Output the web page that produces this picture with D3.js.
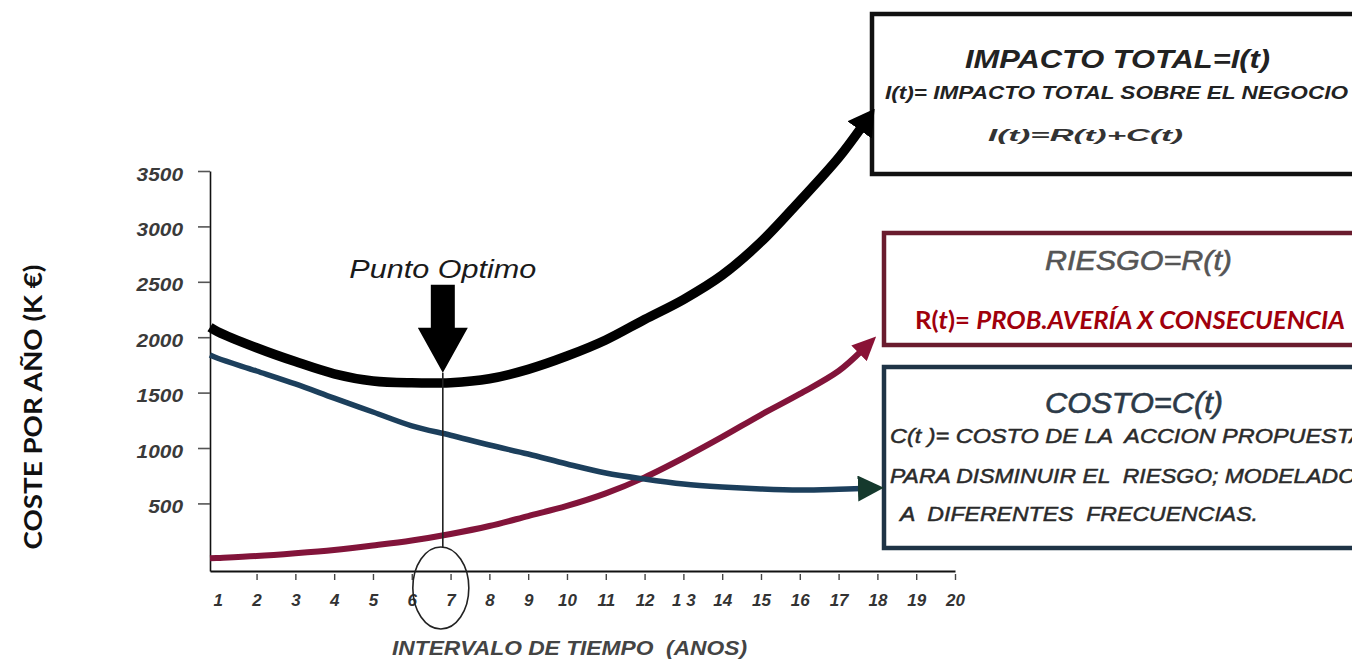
<!DOCTYPE html>
<html><head><meta charset="utf-8">
<script src="https://cdn.jsdelivr.net/npm/d3@7"></script>
<style>html,body{margin:0;padding:0;background:#fff;overflow:hidden}</style>
</head><body><svg id="c" width="1352" height="661"></svg>
<script>
// ---- data ----
const years   = [0.8, 1, 2, 3, 4, 5, 6, 7, 8, 9, 10, 11, 12, 13, 14, 15, 16, 17, 17.6];
const impacto = [2090, 2050, 1905, 1780, 1670, 1605, 1588, 1590, 1625, 1710, 1830, 1975, 2160, 2340, 2560, 2860, 3230, 3620, 3900];
const costo   = [1840, 1810, 1695, 1578, 1450, 1325, 1200, 1115, 1027, 946, 856, 775, 720, 675, 648, 630, 621, 628, 635];
const riesgo  = [5, 8, 25, 50, 80, 120, 165, 224, 296, 386, 477, 590, 735, 910, 1100, 1300, 1488, 1695, 1880];
const yTicks = [500, 1000, 1500, 2000, 2500, 3000, 3500];
const xTicks = [1,2,3,4,5,6,7,8,9,10,11,12,13,14,15,16,17,18,19,20];
const xTickLabels = ["1","2","3","4","5","6","7","8","9","10","11","12","1 3","14","15","16","17","18","19","20"];
const optimoAnio = 6.8;
const optimoCoste = 1590;

const svg = d3.select("#c");
svg.append("rect").attr("width",1352).attr("height",661).attr("fill","#fff");
const x = d3.scaleLinear().domain([0.8, 20]).range([210, 955]);
const y = d3.scaleLinear().domain([-110, 3500]).range([571, 171]);

const FONT = "'Liberation Sans', Arial, sans-serif";

// ---- boxes ----
const boxes = svg.append("g");
boxes.append("rect").attr("x",872).attr("y",14).attr("width",520).attr("height",160)
  .attr("fill","#fff").attr("stroke","#111").attr("stroke-width",4.5);
boxes.append("rect").attr("x",884).attr("y",233).attr("width",510).attr("height",112)
  .attr("fill","#fff").attr("stroke","#6a1c2e").attr("stroke-width",4.5);
boxes.append("rect").attr("x",884).attr("y",367).attr("width",510).attr("height",181)
  .attr("fill","#fff").attr("stroke","#1f3446").attr("stroke-width",4.5);

// ---- axes ----
const yAxis = svg.append("g").attr("transform",`translate(${x(0.8)},0)`)
  .call(d3.axisLeft(y).tickValues(yTicks).tickFormat(d3.format("d")).tickSize(12).tickSizeOuter(0).tickPadding(15));
yAxis.select(".domain").attr("stroke","#111").attr("stroke-width",1.6);
yAxis.selectAll(".tick line").attr("stroke","#555").attr("stroke-width",1.6);
yAxis.selectAll(".tick text").attr("font-family",FONT).attr("font-size",18)
  .attr("font-weight","bold").attr("font-style","italic").attr("fill","#3a3a3a")
  .attr("textLength",d=>String(d).length*11.6).attr("lengthAdjust","spacingAndGlyphs").attr("dy","0.5em");

const xAxis = svg.append("g").attr("transform",`translate(0,${y(-110)})`)
  .call(d3.axisBottom(x).tickValues(xTicks).tickFormat((d,i)=>xTickLabels[i]).tickSize(9).tickSizeOuter(0).tickPadding(14));
xAxis.select(".domain").attr("stroke","#111").attr("stroke-width",1.8);
xAxis.selectAll(".tick line").attr("stroke","#444").attr("stroke-width",1.4).attr("y1",3);
xAxis.selectAll(".tick").filter((d,i)=>i===0).select("line").remove();
xAxis.selectAll(".tick text").attr("font-family",FONT).attr("font-size",17)
  .attr("font-weight","bold").attr("font-style","italic").attr("fill","#333");

// ---- markers ----
const defs = svg.append("defs");
function marker(id, color, L, W) {
  defs.append("marker").attr("id",id).attr("markerUnits","userSpaceOnUse")
    .attr("viewBox",`0 ${-W} ${L} ${2*W}`).attr("refX",4).attr("refY",0)
    .attr("markerWidth",L).attr("markerHeight",2*W).attr("orient","auto")
    .append("path").attr("d",`M0,${-W}L${L},0L0,${W}Z`).attr("fill",color);
}
marker("mBlack","#000",26,15);
marker("mRed","#8a1236",24,11);
marker("mBlue","#15392d",26,13);

const line = d3.line().x((d,i)=>x(years[i])).y(d=>y(d)).curve(d3.curveCatmullRom.alpha(0.5));
svg.append("path").datum(riesgo).attr("d",line).attr("fill","none")
  .attr("stroke","#82143a").attr("stroke-width",6).attr("marker-end","url(#mRed)");
svg.append("path").datum(costo).attr("d",line).attr("fill","none")
  .attr("stroke","#1c3f5c").attr("stroke-width",5.5).attr("marker-end","url(#mBlue)");
svg.append("path").datum(impacto).attr("d",line).attr("fill","none")
  .attr("stroke","#000").attr("stroke-width",9.5).attr("marker-end","url(#mBlack)");

// ---- optimum annotation ----
const ox = x(optimoAnio);
const tipY = y(optimoCoste) - 10;
const ell = {cx: ox - 2, cy: y(-110) + 17, rx: 28, ry: 41};
svg.append("line").attr("x1",ox).attr("x2",ox).attr("y1",tipY).attr("y2",ell.cy-ell.ry)
  .attr("stroke","#222").attr("stroke-width",1.6);
svg.append("ellipse").attr("cx",ell.cx).attr("cy",ell.cy).attr("rx",ell.rx).attr("ry",ell.ry)
  .attr("fill","none").attr("stroke","#222").attr("stroke-width",1.6);
const hw = 12, hh = 25, hl = 45, sl = 43;
svg.append("path").attr("d",
  `M${ox},${tipY}L${ox-hh},${tipY-hl}L${ox-hw},${tipY-hl}L${ox-hw},${tipY-hl-sl}` +
  `L${ox+hw},${tipY-hl-sl}L${ox+hw},${tipY-hl}L${ox+hh},${tipY-hl}Z`).attr("fill","#000");
svg.append("text").attr("x",ox).attr("y",tipY-hl-sl-7).attr("text-anchor","middle")
  .attr("font-family",FONT).attr("font-size",26).attr("font-style","italic")
  .attr("fill","#1a1a1a").attr("textLength",187).attr("lengthAdjust","spacingAndGlyphs").text("Punto Optimo");

// ---- texts ----
function txt(t, o) {
  const e = svg.append("text").attr("x",o.x).attr("y",o.y)
    .attr("font-family",o.family||FONT).attr("font-size",o.size)
    .attr("font-weight",o.weight||"normal").attr("font-style",o.style||"normal")
    .attr("fill",o.fill||"#222").style("white-space","pre");
  if (o.anchor) e.attr("text-anchor",o.anchor);
  if (o.len) e.attr("textLength",o.len).attr("lengthAdjust","spacingAndGlyphs");
  if (o.stroke) e.attr("stroke",o.fill).attr("stroke-width",o.stroke);
  e.text(t);
  return e;
}
txt("IMPACTO TOTAL=I(t)", {x:965, y:68, size:26, weight:"bold", style:"italic", len:305, fill:"#222"});
txt("I(t)= IMPACTO TOTAL SOBRE EL NEGOCIO", {x:885, y:99, size:19, weight:"bold", style:"italic", len:463, fill:"#222"});
txt("I(t)=R(t)+C(t)", {x:988, y:141, size:16, weight:"bold", style:"italic", len:195, fill:"#333"});

txt("RIESGO=R(t)", {x:1045, y:270, size:28, style:"italic", len:187, fill:"#555", stroke:0.6});
const r = svg.append("text").attr("x",915).attr("y",329).attr("font-family","Lato, 'Open Sans', sans-serif")
  .attr("font-size",24).attr("font-weight","bold").attr("fill","#a0000c")
  .attr("textLength",430).attr("lengthAdjust","spacingAndGlyphs");
r.append("tspan").text("R(");
r.append("tspan").attr("font-style","italic").text("t");
r.append("tspan").text(")= ");
r.append("tspan").attr("font-style","italic").text("PROB.AVERÍA X CONSECUENCIA");

txt("COSTO=C(t)", {x:1045, y:413, size:29, style:"italic", len:178, fill:"#2c3a48", stroke:0.6});
txt("C(t )= COSTO DE LA  ACCION PROPUESTA", {x:890, y:443, size:21, style:"italic", len:475, fill:"#2a2a2a", stroke:0.5});
txt("PARA DISMINUIR EL  RIESGO; MODELADO", {x:890, y:483, size:21, style:"italic", len:466, fill:"#2a2a2a", stroke:0.5});
txt("A  DIFERENTES  FRECUENCIAS.", {x:900, y:521, size:21, style:"italic", len:358, fill:"#2a2a2a", stroke:0.5});

txt("INTERVALO DE TIEMPO  (ANOS)", {x:392, y:655, size:20, weight:"bold", style:"italic", len:355, fill:"#444"});

svg.append("text").attr("transform","translate(42,407) rotate(-90)").attr("text-anchor","middle")
  .attr("font-family","Lato, 'Open Sans', sans-serif").attr("font-size",24).attr("font-weight","bold")
  .attr("fill","#111").attr("textLength",285).attr("lengthAdjust","spacingAndGlyphs").text("COSTE POR AÑO (K €)");
</script></body></html>
